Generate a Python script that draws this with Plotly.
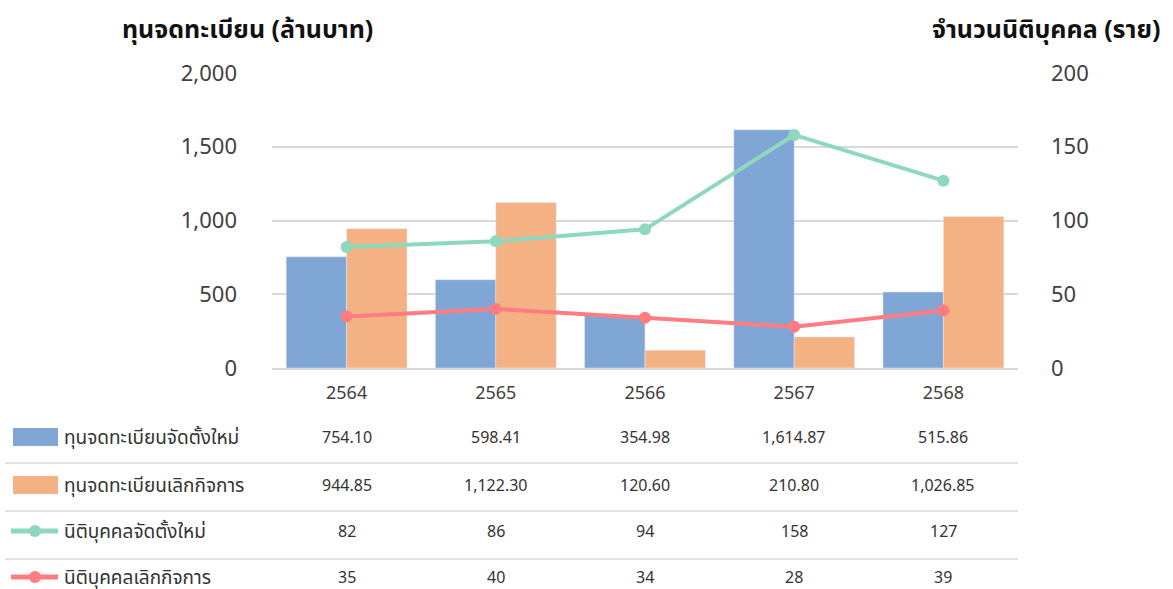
import plotly.graph_objects as go

years = ["2564", "2565", "2566", "2567", "2568"]
cap_new = [754.10, 598.41, 354.98, 1614.87, 515.86]
cap_closed = [944.85, 1122.30, 120.60, 210.80, 1026.85]
firms_new = [82, 86, 94, 158, 127]
firms_closed = [35, 40, 34, 28, 39]

names = ["ทุนจดทะเบียนจัดตั้งใหม่", "ทุนจดทะเบียนเลิกกิจการ", "นิติบุคคลจัดตั้งใหม่", "นิติบุคคลเลิกกิจการ"]
colors = ["#7FA6D5", "#F4B183", "#8ED8BD", "#FF7C80"]
left_title = "ทุนจดทะเบียน (ล้านบาท)"
right_title = "จำนวนนิติบุคคล (ราย)"

FONT = "Noto Sans, Noto Sans Thai, sans-serif"

W, H = 1173, 589
L, R, T, B = 272, 1018, 73, 368
pw, ph = R - L, B - T

def px(x):
    return (x - L) / pw

def py(y):
    return (B - y) / ph

fig = go.Figure()
fig.add_trace(go.Bar(x=years, y=cap_new, name=names[0], marker_color=colors[0], yaxis="y"))
fig.add_trace(go.Bar(x=years, y=cap_closed, name=names[1], marker_color=colors[1], yaxis="y"))
fig.add_trace(go.Scatter(x=years, y=firms_new, name=names[2], mode="lines+markers",
                         line=dict(color=colors[2], width=4), marker=dict(size=12, color=colors[2]),
                         yaxis="y2"))
fig.add_trace(go.Scatter(x=years, y=firms_closed, name=names[3], mode="lines+markers",
                         line=dict(color=colors[3], width=4), marker=dict(size=12, color=colors[3]),
                         yaxis="y2"))

def fmt2(v):
    return f"{v:,.2f}"

rows = [
    [fmt2(v) for v in cap_new],
    [fmt2(v) for v in cap_closed],
    [str(v) for v in firms_new],
    [str(v) for v in firms_closed],
]
row_y = [437, 485, 531, 577]
line_y = [463, 511, 559]

annotations = []
shapes = []
for ri, (vals, yy) in enumerate(zip(rows, row_y)):
    for ci, txt in enumerate(vals):
        annotations.append(dict(x=ci, xref="x", y=py(yy), yref="paper", text=txt, showarrow=False,
                                font=dict(size=16, color="#333333", family=FONT),
                                xanchor="center", yanchor="middle"))
    annotations.append(dict(x=px(62), xref="paper", y=py(yy), yref="paper", text=names[ri], showarrow=False,
                            font=dict(size=19, color="#333333", family=FONT),
                            xanchor="left", yanchor="middle"))
    if ri < 2:
        shapes.append(dict(type="rect", xref="paper", yref="paper",
                           x0=px(13), x1=px(58), y0=py(yy - 9), y1=py(yy + 9),
                           fillcolor=colors[ri], line=dict(width=0)))
    else:
        shapes.append(dict(type="line", xref="paper", yref="paper",
                           x0=px(11), x1=px(58), y0=py(yy), y1=py(yy),
                           line=dict(color=colors[ri], width=5)))
        shapes.append(dict(type="circle", xref="paper", yref="paper",
                           x0=px(29), x1=px(41), y0=py(yy - 6), y1=py(yy + 6),
                           fillcolor=colors[ri], line=dict(width=0)))
for ly in line_y:
    shapes.append(dict(type="line", xref="paper", yref="paper", x0=px(5), x1=1, y0=py(ly), y1=py(ly),
                       line=dict(color="#D9D9D9", width=1.5)))

annotations.append(dict(x=px(247), xref="paper", y=py(28), yref="paper", text=f"<b>{left_title}</b>",
                        showarrow=False, font=dict(size=25, color="#111111", family=FONT),
                        xanchor="center", yanchor="middle"))
annotations.append(dict(x=px(1162), xref="paper", y=py(28), yref="paper", text=f"<b>{right_title}</b>",
                        showarrow=False, font=dict(size=25, color="#111111", family=FONT),
                        xanchor="right", yanchor="middle"))

fig.update_layout(
    width=W, height=H,
    margin=dict(l=L, r=W - R, t=T, b=H - B, pad=0),
    plot_bgcolor="white", paper_bgcolor="white",
    barmode="group", bargap=0.19, bargroupgap=0,
    showlegend=False,
    font=dict(family=FONT, color="#404040"),
    xaxis=dict(type="category", range=[-0.5, len(years) - 0.5], showgrid=False, showline=True,
               linecolor="#D9D9D9", linewidth=1.5,
               ticks="", tickfont=dict(size=18, color="#404040"), ticklabelstandoff=8),
    yaxis=dict(range=[0, 2000], dtick=500, tickformat=",", showgrid=True, gridcolor="#D9D9D9",
               gridwidth=1.5, zeroline=False, showline=False, ticks="",
               tickfont=dict(size=22, color="#404040"), ticklabelstandoff=34),
    yaxis2=dict(range=[0, 200], dtick=50, overlaying="y", side="right", showgrid=False,
                zeroline=False, showline=False, ticks="",
                tickfont=dict(size=22, color="#404040"), ticklabelstandoff=32),
    annotations=annotations,
    shapes=shapes,
)

fig.write_html("out.html", config={"displayModeBar": False},
               post_script="document.body.style.margin='0';")
